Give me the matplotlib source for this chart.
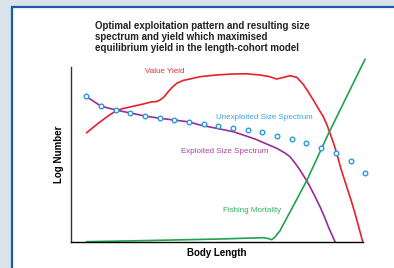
import matplotlib.pyplot as plt
from matplotlib.patches import Rectangle

plt.rcParams['font.family'] = ['Liberation Sans', 'DejaVu Sans']

# unexploited size spectrum (circles)
unexp_x = [15, 29.7, 44.7, 59.3, 74, 88.7, 103.3, 118.3, 133, 147.3, 162.3, 176.7,
           191.3, 205.7, 221, 235.3, 250, 265, 279.7, 294.3]
unexp_y = [145.7, 136, 132, 129, 126, 123.7, 122, 120, 118, 116.3, 114.3, 112.3,
           110.3, 106.3, 102.7, 98.7, 94.3, 88.7, 80.7, 69.3]

# value yield
yield_x = [15.7, 22, 29, 37, 44.7, 52, 59, 65.7, 72.3, 80, 85.7, 89, 93, 97, 101, 105.7,
           112, 119, 129, 145, 162, 175, 189, 198, 205.7, 212, 219, 225.7, 232, 237,
           242.3, 247, 252.3, 256, 259, 262.5, 265.7, 270, 275.7, 280, 284, 288, 291.7]
yield_y = [109.3, 114.5, 120, 126, 131, 133.5, 135, 136.5, 138, 140, 140.5, 142, 145, 150,
           154.5, 158.7, 161.5, 163, 165.3, 167, 168, 168.2, 167, 165.5, 163, 164.5, 166.3,
           164.7, 158, 150.5, 142, 134, 125.3, 117, 108.7, 99, 88.7, 73, 55.3, 42, 28.7,
           14, 0.3]

# exploited size spectrum
expl_x = [15, 29.7, 44.7, 59.3, 74, 88.7, 103.3, 118.3, 129, 144, 162.3, 184, 205.7,
          214, 219, 224, 229, 234, 239, 244, 249, 253.5, 257.3, 261, 264]
expl_y = [145.7, 136, 132, 129, 126, 123.7, 122, 120, 117, 114, 110.3, 103, 93.7,
          89, 85.3, 79, 72, 64, 55.3, 45.5, 35.3, 25, 15.3, 7, 0.3]

# fishing mortality
fish_x = [15.7, 79, 149, 192.3, 197, 200.7, 204, 209, 235.7, 257.3, 294]
fish_y = [0.3, 1.5, 3, 4.3, 3.5, 2.3, 5, 11.3, 61.3, 108, 182.7]

title = ('Optimal exploitation pattern and resulting size\n'
         'spectrum and yield which maximised\n'
         'equilibrium yield in the length-cohort model')

W, H = 394, 268
fig = plt.figure(figsize=(W / 100, H / 100), dpi=100, facecolor='#d9e3eb')
fig.patches.append(Rectangle((12 / W, -0.05), 1.1, 1 - 7 / H + 0.05,
                             transform=fig.transFigure, facecolor='white',
                             edgecolor='#1f5aa6', linewidth=1.6, zorder=-10))

ax = fig.add_axes([71 / W, 1 - 242 / H, 292 / W, (242 - 66.7) / H])
ax.set_xlim(0, 292)
ax.set_ylim(0, 175.3)
ax.patch.set_alpha(0)

ax.plot(yield_x, yield_y, color='#e8202a', lw=1.2, clip_on=False)
ax.plot(expl_x, expl_y, color='#9b2a9b', lw=1.2, clip_on=False)
ax.plot(fish_x, fish_y, color='#1fa34d', lw=1.2, clip_on=False)
ax.plot(unexp_x, unexp_y, 'o', ms=3.3, mfc='white', mec='#2a9ad8', mew=1.0,
        clip_on=False, zorder=5)

ax.text(94, 170.5, 'Value Yield', color='#e8303a', fontsize=5.8, ha='center', va='center')
ax.text(193, 124.7, 'Unexploited Size Spectrum', color='#3aa3e0', fontsize=5.8,
        ha='center', va='center')
ax.text(154, 90.3, 'Exploited Size Spectrum', color='#b040a8', fontsize=5.8,
        ha='center', va='center')
ax.text(181.5, 32, 'Fishing Mortality', color='#30b060', fontsize=5.8,
        ha='center', va='center')

for s in ['top', 'right']:
    ax.spines[s].set_visible(False)
ax.spines['left'].set_color('#333333')
ax.spines['left'].set_linewidth(1.0)
ax.spines['bottom'].set_linewidth(1.0)
ax.set_xticks([])
ax.set_yticks([])

ax.set_xlabel('Body Length', fontsize=7, fontweight='bold', labelpad=4)
ax.set_ylabel('Log Number', fontsize=7, fontweight='bold', labelpad=5)

fig.text(95 / W, 1 - 21 / H, title, fontsize=7, fontweight='bold', ha='left', va='top',
         linespacing=1.1, color='#222222')

fig.savefig('out.png', dpi=100, facecolor=fig.get_facecolor())
